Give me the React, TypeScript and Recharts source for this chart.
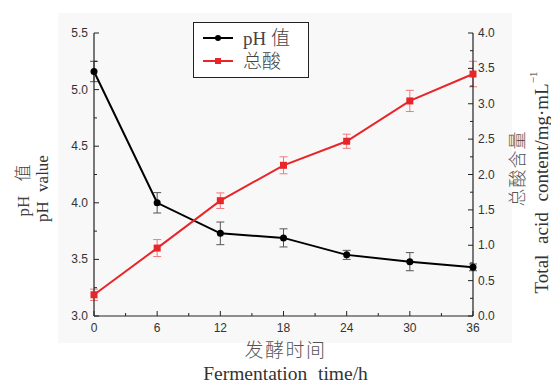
import React from 'react';
import { ComposedChart, Line, XAxis, YAxis, ErrorBar, Legend, Label } from 'recharts';

// fermentation time (h)
const hours = [0, 6, 12, 18, 24, 30, 36];
// pH
const phValues = [5.16, 4.0, 3.73, 3.69, 3.54, 3.48, 3.43];
const phErrors = [0.09, 0.09, 0.1, 0.08, 0.04, 0.08, 0.03];
// total acid, mg/mL
const acidValues = [0.3, 0.96, 1.63, 2.13, 2.47, 3.04, 3.42];
const acidErrors = [0.08, 0.12, 0.11, 0.12, 0.1, 0.15, 0.18];

const hourTicks = [0, 3, 6, 9, 12, 15, 18, 21, 24, 27, 30, 33, 36];
const phTicks = [3, 3.25, 3.5, 3.75, 4, 4.25, 4.5, 4.75, 5, 5.25, 5.5];
const acidTicks = [0, 0.25, 0.5, 0.75, 1, 1.25, 1.5, 1.75, 2, 2.25, 2.5, 2.75, 3, 3.25, 3.5, 3.75, 4];

const data = hours.map((h, i) => ({
  h,
  ph: phValues[i],
  phErr: phErrors[i],
  acid: acidValues[i],
  acidErr: acidErrors[i],
}));

const RED = '#e8262a';
const AXIS = '#222';
const serif = '"Liberation Serif", "Noto Sans CJK SC", serif';
const cjk = '"Noto Sans CJK SC", sans-serif';
const tickFont = { fontFamily: '"Liberation Sans", Arial, sans-serif', fontSize: 12, fill: '#333' };

const isHalf = (v: number) => Math.abs(v * 2 - Math.round(v * 2)) < 1e-6;

function BottomTick(props: any) {
  const { x, y, payload } = props;
  const major = payload.value % 6 === 0;
  return (
    <g>
      <line x1={x} x2={x} y1={y} y2={y - (major ? 5 : 3)} stroke={AXIS} />
      {major && (
        <text x={x} y={y + 16} textAnchor="middle" {...tickFont}>
          {payload.value}
        </text>
      )}
    </g>
  );
}

function LeftTick(props: any) {
  const { x, y, payload } = props;
  const major = isHalf(payload.value);
  return (
    <g>
      <line x1={x} x2={x + (major ? 5 : 3)} y1={y} y2={y} stroke={AXIS} />
      {major && (
        <text x={x - 6} y={y + 4} textAnchor="end" {...tickFont}>
          {payload.value.toFixed(1)}
        </text>
      )}
    </g>
  );
}

function RightTick(props: any) {
  const { x, y, payload } = props;
  const major = isHalf(payload.value);
  return (
    <g>
      <line x1={x} x2={x - (major ? 5 : 3)} y1={y} y2={y} stroke={AXIS} />
      {major && (
        <text x={x + 5} y={y + 4} textAnchor="start" {...tickFont}>
          {payload.value.toFixed(1)}
        </text>
      )}
    </g>
  );
}

const SquareDot = (props: any) => {
  const { cx, cy } = props;
  if (cx == null || cy == null) return null;
  return <rect x={cx - 3.5} y={cy - 3.5} width={7} height={7} fill={RED} />;
};

function LegendBox(props: any) {
  const items = props.payload || [];
  return (
    <svg width={116} height={56} style={{ display: 'block' }}>
      <rect x={0.5} y={0.5} width={115} height={55} fill="#fff" stroke={AXIS} />
      {items.map((it: any, i: number) => {
        const cy = 16 + i * 23;
        const c = it.color;
        return (
          <g key={i}>
            <line x1={10} x2={40} y1={cy} y2={cy} stroke={c} strokeWidth={2} />
            {i === 0 ? (
              <circle cx={25} cy={cy} r={3} fill={c} />
            ) : (
              <rect x={22} y={cy - 3} width={6} height={6} fill={c} />
            )}
            <text x={50} y={cy + 7} fontFamily={serif} fontSize={19} fontWeight={300} fill="#444">
              {it.value}
            </text>
          </g>
        );
      })}
    </svg>
  );
}

export default function App() {
  return (
    <div style={{ position: 'absolute', left: 0, top: 0, width: 551, height: 383, background: '#fff' }}>
      <div style={{ position: 'absolute', left: 58, top: 13, width: 454, height: 330, background: '#f8f8f8' }} />
      <ComposedChart width={551} height={383} data={data} margin={{ top: 33, right: 77, bottom: 66, left: 93 }}>
        <XAxis
          dataKey="h"
          type="number"
          domain={[0, 36]}
          ticks={hourTicks}
          interval={0}
          height={1}
          tickSize={0}
          tickMargin={0}
          tickLine={false}
          tick={<BottomTick />}
          axisLine={{ stroke: AXIS, strokeWidth: 1.2 }}
        >
          <Label
            content={(p: any) => {
              const vb = p.viewBox;
              const cx = vb.x + vb.width / 2 + 2;
              return (
                <g>
                  <text x={cx} y={vb.y + 41} textAnchor="middle" fontFamily={cjk} fontSize={19} fontWeight={300} fill="#555" letterSpacing={1.5}>
                    发酵时间
                  </text>
                  <text x={cx} y={vb.y + 64} textAnchor="middle" fontFamily={serif} fontSize={19.5} fill="#333" wordSpacing={6}>
                    Fermentation time/h
                  </text>
                </g>
              );
            }}
          />
        </XAxis>
        <YAxis
          yAxisId="ph"
          type="number"
          domain={[3, 5.5]}
          ticks={phTicks}
          interval={0}
          width={1}
          tickSize={0}
          tickMargin={0}
          tickLine={false}
          tick={<LeftTick />}
          axisLine={{ stroke: AXIS, strokeWidth: 1.2 }}
        >
          <Label
            content={(p: any) => {
              const vb = p.viewBox;
              const cy = vb.y + vb.height / 2;
              return (
                <g>
                  <text transform={`translate(${vb.x - 70},${cy + 16}) rotate(-90)`} textAnchor="middle" dominantBaseline="central" fontFamily={serif} fontSize={17} fontWeight={300} fill="#444" wordSpacing={10}>
                    pH 值
                  </text>
                  <text transform={`translate(${vb.x - 51},${cy + 14}) rotate(-90)`} textAnchor="middle" dominantBaseline="central" fontFamily={serif} fontSize={17} fill="#333" wordSpacing={5}>
                    pH value
                  </text>
                </g>
              );
            }}
          />
        </YAxis>
        <YAxis
          yAxisId="acid"
          orientation="right"
          type="number"
          domain={[0, 4]}
          ticks={acidTicks}
          interval={0}
          width={1}
          tickSize={0}
          tickMargin={0}
          tickLine={false}
          tick={<RightTick />}
          axisLine={{ stroke: AXIS, strokeWidth: 1.2 }}
        >
          <Label
            content={(p: any) => {
              const vb = p.viewBox;
              const cy = vb.y + vb.height / 2;
              return (
                <g>
                  <text transform={`translate(${vb.x + 43},${cy - 6}) rotate(-90)`} textAnchor="middle" dominantBaseline="central" fontFamily={cjk} fontSize={18} fontWeight={300} fill="#555" letterSpacing={1}>
                    总酸含量
                  </text>
                  <text transform={`translate(${vb.x + 68},${cy + 8}) rotate(-90)`} textAnchor="middle" dominantBaseline="central" fontFamily={serif} fontSize={19} fill="#333" wordSpacing={6}>
                    Total acid content/mg·mL<tspan fontSize={11} dy={-8}>−1</tspan>
                  </text>
                </g>
              );
            }}
          />
        </YAxis>
        <Legend
          layout="vertical"
          align="center"
          verticalAlign="middle"
          wrapperStyle={{ left: 193, top: 22, width: 116, height: 56 }}
          content={<LegendBox />}
        />
        <Line
          yAxisId="ph"
          dataKey="ph"
          name="pH 值"
          stroke="#000"
          strokeWidth={2}
          dot={{ r: 3.5, fill: '#000', stroke: '#000', strokeWidth: 0 }}
          isAnimationActive={false}
        >
          <ErrorBar dataKey="phErr" direction="y" width={4} stroke="#555" strokeWidth={1} />
        </Line>
        <Line
          yAxisId="acid"
          dataKey="acid"
          name="总酸"
          stroke={RED}
          strokeWidth={2}
          dot={<SquareDot />}
          isAnimationActive={false}
        >
          <ErrorBar dataKey="acidErr" direction="y" width={4} stroke="#f07a7a" strokeWidth={1} />
        </Line>
      </ComposedChart>
    </div>
  );
}
